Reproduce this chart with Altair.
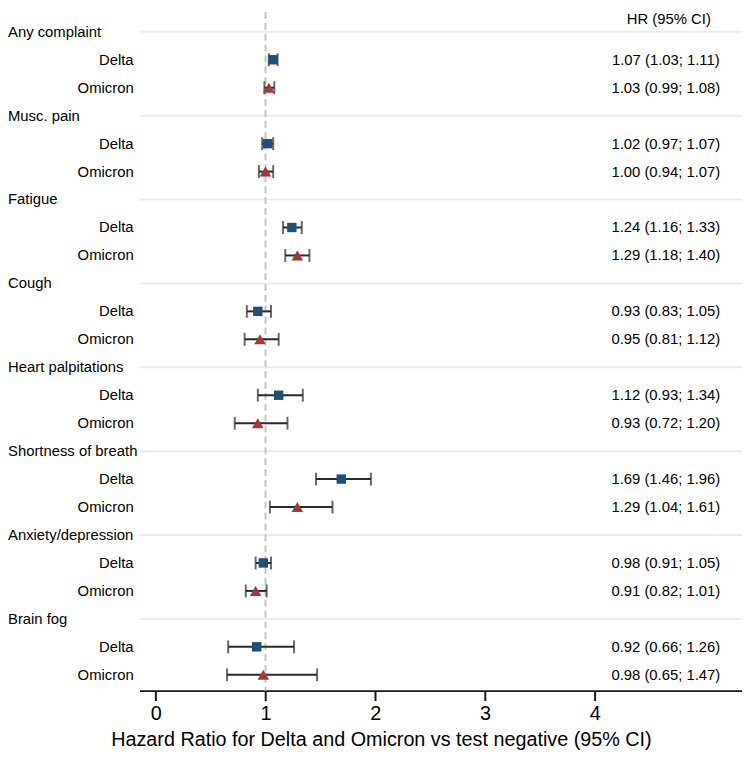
import altair as alt
import pandas as pd

groups = ["Any complaint", "Musc. pain", "Fatigue", "Cough", "Heart palpitations",
          "Shortness of breath", "Anxiety/depression", "Brain fog"]
variants = ["Delta", "Omicron"]

delta_hr = [1.07, 1.02, 1.24, 0.93, 1.12, 1.69, 0.98, 0.92]
delta_lo = [1.03, 0.97, 1.16, 0.83, 0.93, 1.46, 0.91, 0.66]
delta_hi = [1.11, 1.07, 1.33, 1.05, 1.34, 1.96, 1.05, 1.26]

omicron_hr = [1.03, 1.00, 1.29, 0.95, 0.93, 1.29, 0.91, 0.98]
omicron_lo = [0.99, 0.94, 1.18, 0.81, 0.72, 1.04, 0.82, 0.65]
omicron_hi = [1.08, 1.07, 1.40, 1.12, 1.20, 1.61, 1.01, 1.47]

x_ticks = [0, 1, 2, 3, 4]
x_title = "Hazard Ratio for Delta and Omicron vs test negative (95% CI)"
hr_header = "HR (95% CI)"

# ---- build tables ----
header_rows = []
est_rows = []
for g, name in enumerate(groups):
    header_rows.append({"row": 3 * g, "label": name})
    for k, (v, hr, lo, hi) in enumerate([
        ("Delta", delta_hr[g], delta_lo[g], delta_hi[g]),
        ("Omicron", omicron_hr[g], omicron_lo[g], omicron_hi[g]),
    ]):
        est_rows.append({
            "row": 3 * g + 1 + k, "variant": v, "hr": hr, "lo": lo, "hi": hi,
            "txt": f"{hr:.2f} ({lo:.2f}; {hi:.2f})",
        })
headers = pd.DataFrame(header_rows)
est = pd.DataFrame(est_rows)
caps = pd.concat([est[["row", "lo"]].rename(columns={"lo": "v"}),
                  est[["row", "hi"]].rename(columns={"hi": "v"})])
top = pd.DataFrame([{"row": -0.46, "label": hr_header}])

W, H = 609, 686
FONT = "Liberation Sans"
INK = "#2a2a2a"

xscale = alt.Scale(domain=[-0.147, 5.34], nice=False, zero=False)
yscale = alt.Scale(domain=[-0.7077, 23.567], reverse=True, nice=False, zero=False)
xaxis = alt.Axis(values=x_ticks, grid=False, domainColor="#1a1a1a", domainWidth=2,
                 tickColor="#1a1a1a", tickWidth=2, tickSize=10,
                 labelFont=FONT, labelFontSize=20, labelColor="black", labelPadding=3,
                 labelFlush=False, title=x_title, titleFont=FONT, titleFontSize=20,
                 titleFontWeight="normal", titleColor="black", titleX=244, titleY=49,
                 titleAlign="center", titleBaseline="middle")
Y = alt.Y("row:Q", scale=yscale, axis=None)

sep = alt.Chart(headers).mark_rule(color="#ebebeb", strokeWidth=2).encode(
    x=alt.value(0), x2=alt.value(W), y=Y)

ref = alt.Chart(pd.DataFrame({"v": [1]})).mark_rule(
    color="#c4c4c4", strokeWidth=2, strokeDash=[7, 4]).encode(
    x=alt.X("v:Q", scale=xscale, axis=xaxis), y=alt.value(0), y2=alt.value(H))

ci = alt.Chart(est).mark_rule(color=INK, strokeWidth=2).encode(
    x=alt.X("lo:Q", scale=xscale, axis=xaxis), x2="hi:Q", y=Y)

cap = alt.Chart(caps).mark_tick(orient="vertical", color=INK, thickness=2, size=13).encode(
    x=alt.X("v:Q", scale=xscale, axis=xaxis), y=Y)

pt_d = alt.Chart(est[est.variant == "Delta"]).mark_point(
    shape="square", filled=True, opacity=1, size=90, color="#1f4e79").encode(
    x=alt.X("hr:Q", scale=xscale, axis=xaxis), y=Y)
pt_o = alt.Chart(est[est.variant == "Omicron"]).mark_point(
    shape="triangle-up", filled=True, opacity=1, size=135, color="#a3373a").encode(
    x=alt.X("hr:Q", scale=xscale, axis=xaxis), y=Y)

grp_txt = alt.Chart(headers).mark_text(
    align="left", baseline="middle", font=FONT, fontSize=15, color="black").encode(
    x=alt.value(-133), y=Y, text="label:N")
var_txt = alt.Chart(est).mark_text(
    align="right", baseline="middle", font=FONT, fontSize=15, color="black").encode(
    x=alt.value(-6), y=Y, text="variant:N")
hr_txt = alt.Chart(est).mark_text(
    align="center", baseline="middle", font=FONT, fontSize=15, color="black").encode(
    x=alt.value(532), y=Y, text="txt:N")
hdr_txt = alt.Chart(top).mark_text(
    align="center", baseline="middle", font=FONT, fontSize=15, color="black").encode(
    x=alt.value(535), y=Y, text="label:N")

chart = alt.layer(sep, ref, ci, cap, pt_d, pt_o, grp_txt, var_txt, hr_txt, hdr_txt).properties(
    width=W, height=H,
    autosize=alt.AutoSizeParams(type="none"),
    padding={"left": 133, "top": 0, "right": 0, "bottom": 62},
    background="white",
).configure_view(stroke=None)

chart.save("out.html", embed_options={"renderer": "svg", "actions": False})
